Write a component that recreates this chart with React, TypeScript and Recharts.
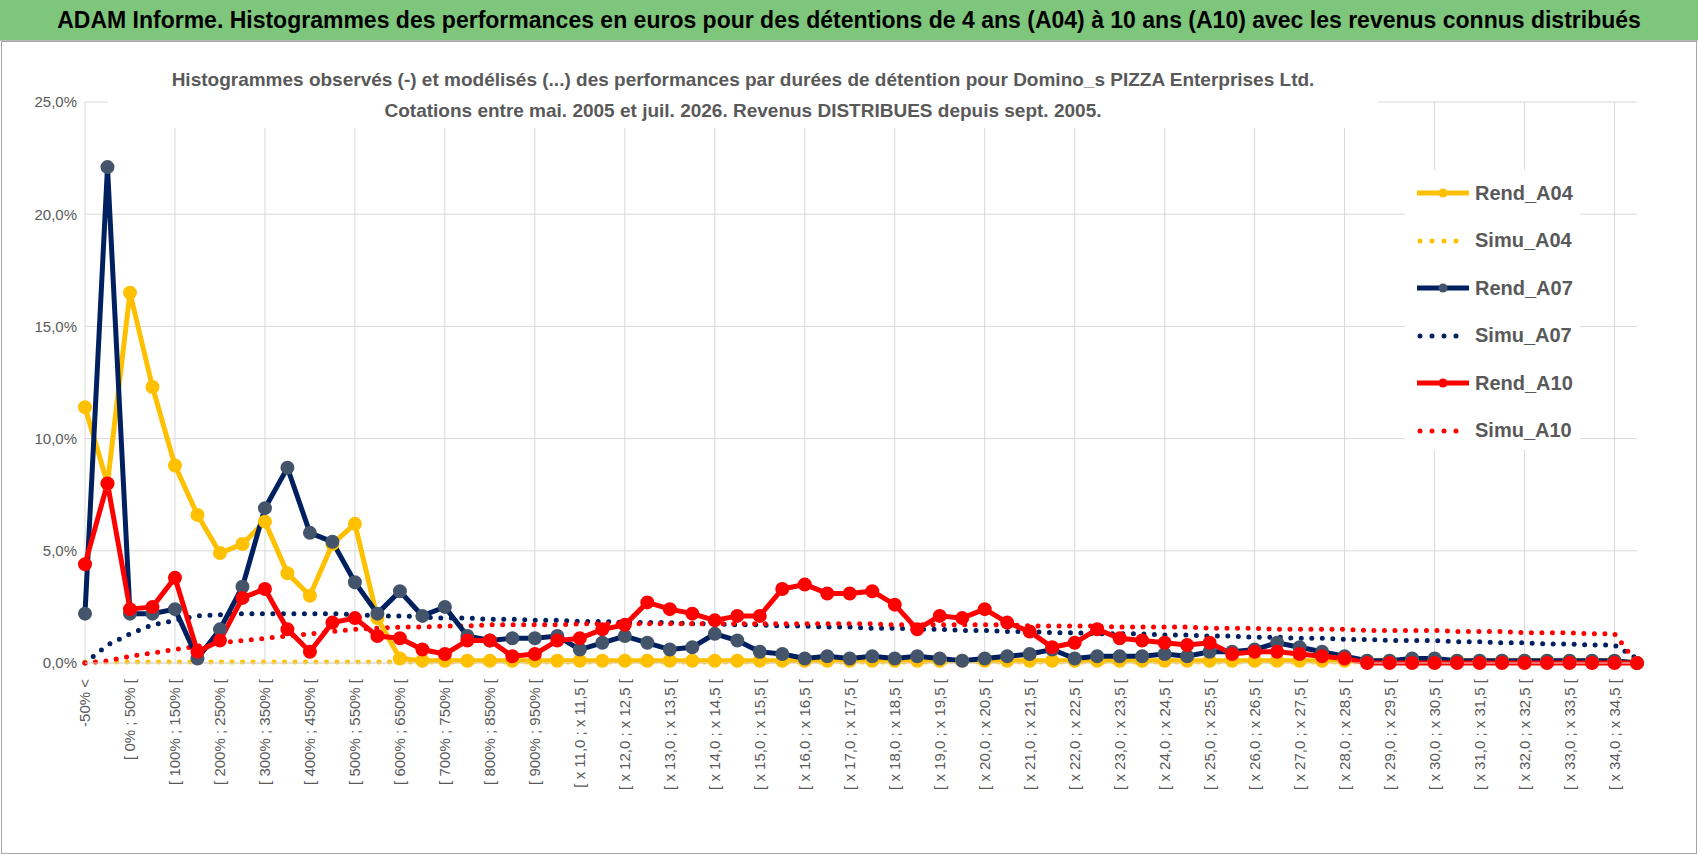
import { LineChart, Line, XAxis, YAxis, CartesianGrid, ReferenceLine } from 'recharts';

const categories = [
  '-50% <', '[ -50% ; 0% [', '[ 0% ; 50% [', '[ 50% ; 100% [', '[ 100% ; 150% [', '[ 150% ; 200% [',
  '[ 200% ; 250% [', '[ 250% ; 300% [', '[ 300% ; 350% [', '[ 350% ; 400% [', '[ 400% ; 450% [',
  '[ 450% ; 500% [', '[ 500% ; 550% [', '[ 550% ; 600% [', '[ 600% ; 650% [', '[ 650% ; 700% [',
  '[ 700% ; 750% [', '[ 750% ; 800% [', '[ 800% ; 850% [', '[ 850% ; 900% [', '[ 900% ; 950% [',
  '[ 950% ; 1000% [',
  '[ x 11,0 ; x 11,5 [', '[ x 11,5 ; x 12,0 [', '[ x 12,0 ; x 12,5 [', '[ x 12,5 ; x 13,0 [',
  '[ x 13,0 ; x 13,5 [', '[ x 13,5 ; x 14,0 [', '[ x 14,0 ; x 14,5 [', '[ x 14,5 ; x 15,0 [',
  '[ x 15,0 ; x 15,5 [', '[ x 15,5 ; x 16,0 [', '[ x 16,0 ; x 16,5 [', '[ x 16,5 ; x 17,0 [',
  '[ x 17,0 ; x 17,5 [', '[ x 17,5 ; x 18,0 [', '[ x 18,0 ; x 18,5 [', '[ x 18,5 ; x 19,0 [',
  '[ x 19,0 ; x 19,5 [', '[ x 19,5 ; x 20,0 [', '[ x 20,0 ; x 20,5 [', '[ x 20,5 ; x 21,0 [',
  '[ x 21,0 ; x 21,5 [', '[ x 21,5 ; x 22,0 [', '[ x 22,0 ; x 22,5 [', '[ x 22,5 ; x 23,0 [',
  '[ x 23,0 ; x 23,5 [', '[ x 23,5 ; x 24,0 [', '[ x 24,0 ; x 24,5 [', '[ x 24,5 ; x 25,0 [',
  '[ x 25,0 ; x 25,5 [', '[ x 25,5 ; x 26,0 [', '[ x 26,0 ; x 26,5 [', '[ x 26,5 ; x 27,0 [',
  '[ x 27,0 ; x 27,5 [', '[ x 27,5 ; x 28,0 [', '[ x 28,0 ; x 28,5 [', '[ x 28,5 ; x 29,0 [',
  '[ x 29,0 ; x 29,5 [', '[ x 29,5 ; x 30,0 [', '[ x 30,0 ; x 30,5 [', '[ x 30,5 ; x 31,0 [',
  '[ x 31,0 ; x 31,5 [', '[ x 31,5 ; x 32,0 [', '[ x 32,0 ; x 32,5 [', '[ x 32,5 ; x 33,0 [',
  '[ x 33,0 ; x 33,5 [', '[ x 33,5 ; x 34,0 [', '[ x 34,0 ; x 34,5 [', '[ x 34,5 ; x 35,0 [',
];

const rendA04 = [
  11.4, 8.0, 16.5, 12.3, 8.8, 6.6, 4.9, 5.3, 6.3, 4.0,
  3.0, 5.3, 6.2, 2.0, 0.2, 0.1, 0.1, 0.1, 0.1, 0.1,
  0.1, 0.1, 0.1, 0.1, 0.1, 0.1, 0.1, 0.1, 0.1, 0.1,
  0.1, 0.1, 0.1, 0.1, 0.1, 0.1, 0.1, 0.1, 0.1, 0.1,
  0.1, 0.1, 0.1, 0.1, 0.1, 0.1, 0.1, 0.1, 0.1, 0.1,
  0.1, 0.1, 0.1, 0.1, 0.1, 0.1, 0.1, 0.1, 0.1, 0.1,
  0.1, 0.1, 0.1, 0.1, 0.1, 0.1, 0.1, 0.1, 0.1, 0.0,
];
const simuA04 = [
  0.05, 0.05, 0.05, 0.05, 0.05, 0.05, 0.05, 0.05, 0.05, 0.05,
  0.05, 0.05, 0.05, 0.05, 0.05, 0.05, 0.05, 0.05, 0.05, 0.05,
  0.05, 0.05, 0.05, 0.05, 0.05, 0.05, 0.05, 0.05, 0.05, 0.05,
  0.05, 0.05, 0.05, 0.05, 0.05, 0.05, 0.05, 0.05, 0.05, 0.05,
  0.05, 0.05, 0.05, 0.05, 0.05, 0.05, 0.05, 0.05, 0.05, 0.05,
  0.05, 0.05, 0.05, 0.05, 0.05, 0.05, 0.05, 0.05, 0.05, 0.05,
  0.05, 0.05, 0.05, 0.05, 0.05, 0.05, 0.05, 0.05, 0.05, 0.0,
];
const rendA07 = [
  2.2, 22.1, 2.2, 2.2, 2.4, 0.2, 1.5, 3.4, 6.9, 8.7,
  5.8, 5.4, 3.6, 2.2, 3.2, 2.1, 2.5, 1.2, 1.0, 1.1,
  1.1, 1.2, 0.6, 0.9, 1.2, 0.9, 0.6, 0.7, 1.3, 1.0,
  0.5, 0.4, 0.2, 0.3, 0.2, 0.3, 0.2, 0.3, 0.2, 0.1,
  0.2, 0.3, 0.4, 0.6, 0.2, 0.3, 0.3, 0.3, 0.4, 0.3,
  0.5, 0.5, 0.6, 0.9, 0.7, 0.5, 0.3, 0.1, 0.1, 0.2,
  0.2, 0.1, 0.1, 0.1, 0.1, 0.1, 0.1, 0.1, 0.1, 0.0,
];
const simuA07 = [
  0.0, 0.8, 1.3, 1.7, 1.9, 2.1, 2.15, 2.2, 2.2, 2.2,
  2.2, 2.2, 2.15, 2.1, 2.1, 2.05, 2.0, 2.0, 1.95, 1.95,
  1.9, 1.9, 1.85, 1.85, 1.8, 1.8, 1.8, 1.75, 1.75, 1.7,
  1.7, 1.65, 1.65, 1.6, 1.6, 1.55, 1.55, 1.5, 1.5, 1.45,
  1.45, 1.4, 1.4, 1.35, 1.35, 1.3, 1.3, 1.3, 1.25, 1.25,
  1.2, 1.2, 1.15, 1.15, 1.1, 1.1, 1.05, 1.05, 1.0, 1.0,
  1.0, 0.95, 0.95, 0.9, 0.9, 0.85, 0.85, 0.8, 0.8, 0.2,
];
const rendA10 = [
  4.4, 8.0, 2.4, 2.5, 3.8, 0.5, 1.0, 2.9, 3.3, 1.5,
  0.5, 1.8, 2.0, 1.2, 1.1, 0.6, 0.4, 1.0, 1.0, 0.3,
  0.4, 1.0, 1.1, 1.5, 1.7, 2.7, 2.4, 2.2, 1.9, 2.1,
  2.1, 3.3, 3.5, 3.1, 3.1, 3.2, 2.6, 1.5, 2.1, 2.0,
  2.4, 1.8, 1.4, 0.7, 0.9, 1.5, 1.1, 1.0, 0.9, 0.8,
  0.9, 0.4, 0.5, 0.5, 0.4, 0.3, 0.2, 0.0, 0.0, 0.0,
  0.0, 0.0, 0.0, 0.0, 0.0, 0.0, 0.0, 0.0, 0.0, 0.0,
];
const simuA10 = [
  0.0, 0.1, 0.3, 0.45, 0.6, 0.75, 0.9, 1.0, 1.1, 1.2,
  1.3, 1.4, 1.5, 1.55, 1.6, 1.6, 1.65, 1.65, 1.7, 1.7,
  1.7, 1.7, 1.75, 1.75, 1.75, 1.75, 1.75, 1.75, 1.75, 1.75,
  1.75, 1.75, 1.75, 1.75, 1.75, 1.75, 1.7, 1.7, 1.7, 1.7,
  1.7, 1.7, 1.65, 1.65, 1.65, 1.65, 1.6, 1.6, 1.6, 1.6,
  1.55, 1.55, 1.55, 1.5, 1.5, 1.5, 1.5, 1.45, 1.45, 1.45,
  1.45, 1.4, 1.4, 1.4, 1.35, 1.35, 1.35, 1.3, 1.3, 0.0,
];
const yTicks = [0, 5, 10, 15, 20, 25];

const data = categories.map((label, i) => ({
  label,
  rendA04: rendA04[i],
  simuA04: simuA04[i],
  rendA07: rendA07[i],
  simuA07: simuA07[i],
  rendA10: rendA10[i],
  simuA10: simuA10[i],
}));

// vertical gridlines sit on every 4th category
const gridCategories = categories.filter((_, i) => i % 4 === 0);

const YELLOW = '#FFC000';
const NAVY = '#002060';
const RED = '#FF0000';
const GREY = '#595959';
const FONT = '"Liberation Sans", Arial, sans-serif';

const legendItems = [
  { name: 'Rend_A04', color: YELLOW, dotted: false, dot: YELLOW },
  { name: 'Simu_A04', color: YELLOW, dotted: true, dot: YELLOW },
  { name: 'Rend_A07', color: NAVY, dotted: false, dot: '#44546A' },
  { name: 'Simu_A07', color: NAVY, dotted: true, dot: NAVY },
  { name: 'Rend_A10', color: RED, dotted: false, dot: RED },
  { name: 'Simu_A10', color: RED, dotted: true, dot: RED },
];

function XTick(props: any) {
  const { x, y, payload } = props;
  return (
    <g transform={`translate(${x},${y + 8})`}>
      <text transform="rotate(-90)" x={0} y={0} dy={5} textAnchor="end" fill={GREY} fontSize={15} fontFamily={FONT}>
        {payload.value}
      </text>
    </g>
  );
}

export default function App() {
  return (
    <div style={{ position: 'relative', width: 1698, height: 854, background: '#fff', fontFamily: FONT, overflow: 'hidden' }}>
      <style>{'body{margin:0}'}</style>
      <div style={{
        position: 'absolute', left: 0, top: 0, width: 1698, height: 40, background: '#7DC67B',
        borderBottom: '1px solid #bbb', display: 'flex', alignItems: 'center', justifyContent: 'center',
        fontWeight: 700, fontSize: 23, color: '#000', whiteSpace: 'nowrap',
      }}>
        ADAM Informe. Histogrammes des performances en euros pour des détentions de 4 ans (A04) à 10 ans (A10) avec les revenus connus distribués
      </div>
      <div style={{ position: 'absolute', left: 1, top: 41, width: 1694, height: 811, border: '1px solid #a6a6a6' }} />
      <div style={{ position: 'absolute', top: 41 }}>
        <LineChart width={1698} height={812} data={data} margin={{ top: 61, right: 61, left: 10, bottom: 10 }}>
          <CartesianGrid stroke="#d9d9d9" vertical={false} />
          <XAxis
            dataKey="label"
            interval={1}
            height={180}
            tick={<XTick />}
            tickLine={false}
            axisLine={{ stroke: '#d9d9d9' }}
          />
          <YAxis
            domain={[0, 25]}
            ticks={yTicks}
            width={75}
            tickFormatter={(v: number) => `${v.toFixed(1).replace('.', ',')}%`}
            tick={{ fill: GREY, fontSize: 15, fontFamily: FONT }}
            axisLine={false}
            tickLine={false}
          />
          {gridCategories.map((c) => (
            <ReferenceLine key={c} x={c} stroke="#d9d9d9" strokeWidth={1} />
          ))}
          <Line dataKey="simuA04" stroke={YELLOW} strokeWidth={5} strokeDasharray="0 10.5" strokeLinecap="round" dot={false} isAnimationActive={false} />
          <Line dataKey="simuA07" stroke={NAVY} strokeWidth={5} strokeDasharray="0 10.5" strokeLinecap="round" dot={false} isAnimationActive={false} />
          <Line dataKey="simuA10" stroke={RED} strokeWidth={5} strokeDasharray="0 10.5" strokeLinecap="round" dot={false} isAnimationActive={false} />
          <Line dataKey="rendA04" stroke={YELLOW} strokeWidth={5} dot={{ r: 4.5, fill: YELLOW, stroke: YELLOW }} isAnimationActive={false} />
          <Line dataKey="rendA07" stroke={NAVY} strokeWidth={5} dot={{ r: 4.5, fill: '#44546A', stroke: '#44546A' }} isAnimationActive={false} />
          <Line dataKey="rendA10" stroke={RED} strokeWidth={5} dot={{ r: 4.5, fill: RED, stroke: RED }} isAnimationActive={false} />
        </LineChart>
      </div>
      <div style={{
        position: 'absolute', left: 108, top: 64, width: 1270, height: 64, background: '#fff',
        textAlign: 'center', color: GREY, fontWeight: 700, fontSize: 19, lineHeight: '31px',
      }}>
        <div>Histogrammes observés (-) et modélisés (...) des performances par durées de détention pour Domino_s PIZZA Enterprises Ltd.</div>
        <div>Cotations entre mai. 2005 et juil. 2026. Revenus DISTRIBUES depuis sept. 2005.</div>
      </div>
      <div style={{ position: 'absolute', left: 1405, top: 170, width: 175, height: 280, background: '#fff' }}>
        {legendItems.map((it, i) => (
          <div key={it.name} style={{ position: 'absolute', left: 12, top: 10 + i * 47.5, display: 'flex', alignItems: 'center', height: 26 }}>
            <svg width={52} height={12}>
              {it.dotted ? (
                <line x1={3} y1={6} x2={50} y2={6} stroke={it.color} strokeWidth={5} strokeDasharray="0 12" strokeLinecap="round" />
              ) : (
                <>
                  <line x1={0} y1={6} x2={52} y2={6} stroke={it.color} strokeWidth={5} />
                  <circle cx={26} cy={6} r={4.5} fill={it.dot} />
                </>
              )}
            </svg>
            <span style={{ marginLeft: 6, color: GREY, fontWeight: 700, fontSize: 20 }}>{it.name}</span>
          </div>
        ))}
      </div>
    </div>
  );
}
